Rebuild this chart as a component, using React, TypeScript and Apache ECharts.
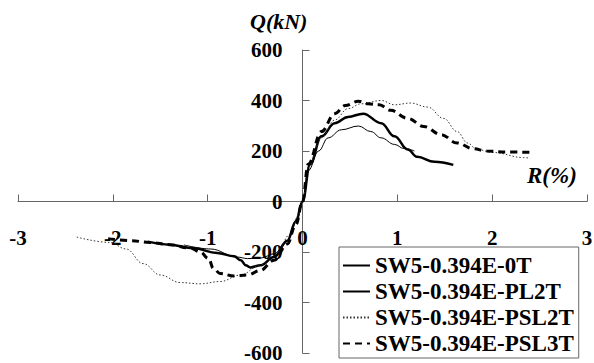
import React, { useEffect, useRef } from "react";
import * as echarts from "echarts";

const seriesNames = [
  "SW5-0.394E-0T",
  "SW5-0.394E-PL2T",
  "SW5-0.394E-PSL2T",
  "SW5-0.394E-PSL3T",
];

const xTicks = [-3, -2, -1, 0, 1, 2, 3];
const yTicks = [-600, -400, -200, 0, 200, 400, 600];

// [R(%), Q(kN)]
const data0T: number[][] = [
  [-1.63, -159], [-1.4, -171], [-1.15, -185], [-0.9, -204], [-0.72, -217],
  [-0.65, -233], [-0.6, -252], [-0.55, -261], [-0.44, -252], [-0.3, -220],
  [-0.16, -155], [-0.07, -78], [0, 0],
  [0.08, 148], [0.2, 258], [0.34, 310], [0.48, 335], [0.64, 348], [0.83, 310],
  [0.97, 258], [1.11, 206], [1.21, 177], [1.39, 157], [1.59, 145],
];

const dataPL2T: number[][] = [
  [-1.25, -172], [-0.97, -188], [-0.69, -220], [-0.58, -226], [-0.44, -224],
  [-0.3, -207], [-0.16, -155], [-0.05, -65], [0, 0],
  [0.06, 122], [0.17, 200], [0.27, 252], [0.41, 284], [0.59, 299], [0.72, 277],
  [0.83, 252], [0.97, 226], [1.07, 210], [1.18, 200],
];

const dataPSL2T: number[][] = [
  [-2.38, -141], [-2.03, -162], [-1.86, -188], [-1.68, -246], [-1.5, -291],
  [-1.29, -321], [-1.08, -326], [-0.87, -317], [-0.65, -291], [-0.45, -252],
  [-0.27, -200], [-0.13, -130], [-0.04, -52], [0, 0],
  [0.06, 135], [0.2, 252], [0.34, 323], [0.48, 368], [0.62, 387], [0.83, 400],
  [0.97, 383], [1.14, 390], [1.32, 374], [1.49, 329], [1.63, 277], [1.74, 232],
  [1.84, 206], [2.01, 194], [2.33, 174], [2.4, 171],
];

const dataPSL3T: number[][] = [
  [-2.05, -147], [-1.82, -155], [-1.61, -162], [-1.4, -171], [-1.18, -185],
  [-1.08, -200], [-0.99, -226], [-0.94, -265], [-0.87, -285], [-0.72, -295],
  [-0.58, -291], [-0.45, -274], [-0.3, -233], [-0.16, -168], [-0.07, -91], [0, 0],
  [0.06, 148], [0.2, 277], [0.34, 348], [0.45, 380], [0.59, 397], [0.69, 387],
  [0.81, 383], [0.93, 361], [1.11, 329], [1.28, 297], [1.46, 265], [1.63, 232],
  [1.8, 209], [1.94, 200], [2.15, 196], [2.41, 195],
];

const FONT = "Liberation Serif";

// layout
const W = 594;
const H = 363;
const GRID = { left: 18, right: 7, top: 50, bottom: 10 };

export default function App() {
  const ref = useRef<HTMLDivElement>(null);
  useEffect(() => {
    if (!ref.current) return;
    const chart = echarts.init(ref.current, undefined, { renderer: "svg" });
    const axisColor = "#666";
    const xMin = xTicks[0];
    const xMax = xTicks[xTicks.length - 1];
    const yMin = yTicks[0];
    const yMax = yTicks[yTicks.length - 1];
    const plotW = W - GRID.left - GRID.right;
    const plotH = H - GRID.top - GRID.bottom;
    // shift axes so they cross at the origin
    const xAxisOffset = -((0 - yMin) / (yMax - yMin)) * plotH;
    const yAxisOffset = -((0 - xMin) / (xMax - xMin)) * plotW;
    const lineSeries = (name: string, data: number[][], style: any) => ({
      name,
      type: "line",
      data,
      smooth: 0.4,
      smoothMonotone: "x",
      showSymbol: false,
      symbol: "none",
      lineStyle: style,
      itemStyle: { color: style.color },
      z: 3,
    });
    chart.setOption({
      animation: false,
      backgroundColor: "#fff",
      textStyle: { fontFamily: FONT },
      grid: {
        ...GRID,
        containLabel: false,
        outerBoundsMode: "none",
      },
      xAxis: {
        type: "value",
        min: xMin,
        max: xMax,
        interval: 1,
        offset: xAxisOffset,
        axisLine: { onZero: false, lineStyle: { color: axisColor, width: 1 } },
        axisTick: { show: true, inside: true, length: 7, lineStyle: { color: axisColor } },
        axisLabel: {
          margin: 26,
          color: "#000",
          fontSize: 21,
          fontWeight: "bold",
          fontFamily: FONT,
        },
        splitLine: { show: false },
      },
      yAxis: {
        type: "value",
        min: yMin,
        max: yMax,
        interval: 200,
        offset: yAxisOffset,
        axisLine: { onZero: false, lineStyle: { color: axisColor, width: 1 } },
        axisTick: { show: true, inside: true, length: 7, lineStyle: { color: axisColor } },
        axisLabel: {
          margin: 20,
          color: "#000",
          fontSize: 21,
          fontWeight: "bold",
          fontFamily: FONT,
        },
        splitLine: { show: false },
      },
      legend: {
        show: true,
        orient: "vertical",
        left: 339,
        top: 247,
        padding: [7, 5, 3, 3],
        itemGap: 3,
        itemWidth: 27,
        itemHeight: 14,
        borderColor: axisColor,
        borderWidth: 1,
        backgroundColor: "#fff",
        data: seriesNames,
        itemStyle: { opacity: 0 },
        textStyle: {
          color: "#000",
          fontSize: 23,
          lineHeight: 23,
          fontWeight: "bold",
          fontFamily: FONT,
        },
      },
      graphic: [
        {
          type: "text",
          left: 250,
          top: 10,
          style: {
            text: "Q(kN)",
            fill: "#000",
            font: `italic bold 22px ${FONT}`,
          },
        },
        {
          type: "text",
          left: 527,
          top: 164,
          style: {
            text: "R(%)",
            fill: "#000",
            font: `italic bold 23px ${FONT}`,
          },
        },
      ],
      series: [
        lineSeries(seriesNames[0], data0T, { color: "#000", width: 2.5, type: "solid" }),
        lineSeries(seriesNames[1], dataPL2T, { color: "#000", width: 1, type: "solid" }),
        lineSeries(seriesNames[2], dataPSL2T, { color: "#333", width: 1, type: [1.5, 2] }),
        lineSeries(seriesNames[3], dataPSL3T, { color: "#000", width: 3, type: [7, 5] }),
      ],
    });
    return () => chart.dispose();
  }, []);
  return (
    <div
      ref={ref}
      style={{ position: "fixed", left: 0, top: 0, width: W, height: H }}
    />
  );
}
